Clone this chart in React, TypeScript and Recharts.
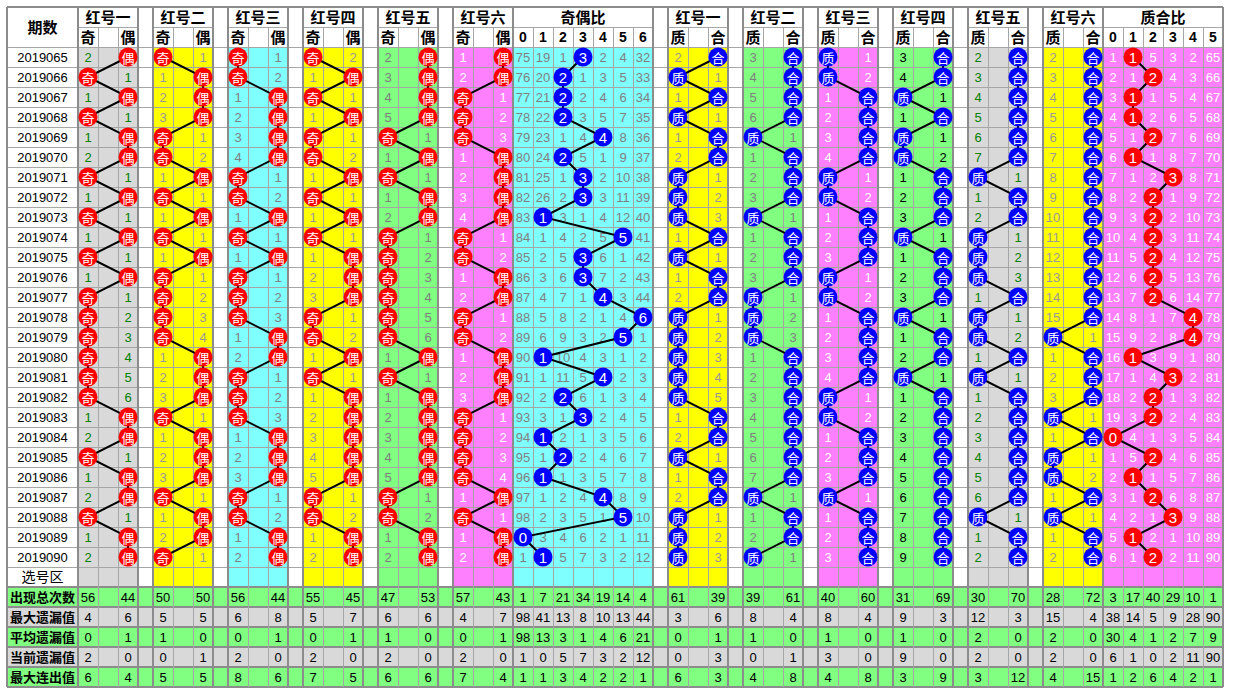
import React from 'react';
import { ComposedChart, XAxis, YAxis, Scatter, ReferenceArea, ReferenceLine } from 'recharts';

const periods = [
  '2019065', '2019066', '2019067', '2019068', '2019069', '2019070', '2019071', '2019072', '2019073',
  '2019074', '2019075', '2019076', '2019077', '2019078', '2019079', '2019080', '2019081', '2019082',
  '2019083', '2019084', '2019085', '2019086', '2019087', '2019088', '2019089', '2019090',
];

// 奇偶走势：每期开出的一侧 + 另一侧的遗漏
const red1OddEven = '偶奇偶奇偶偶奇偶奇偶奇偶奇奇奇奇奇奇偶偶奇偶偶奇偶偶';
const red1OddEvenMiss = [2, 1, 1, 1, 1, 2, 1, 1, 1, 1, 1, 1, 1, 2, 3, 4, 5, 6, 1, 2, 1, 1, 2, 1, 1, 2];
const red2OddEven = '奇偶偶偶奇奇偶奇偶奇偶奇奇奇奇偶偶偶奇偶偶偶奇偶偶奇';
const red2OddEvenMiss = [1, 1, 2, 3, 1, 2, 1, 1, 1, 1, 1, 1, 2, 3, 4, 1, 2, 3, 1, 1, 2, 3, 1, 1, 2, 1];
const red3OddEven = '奇奇偶偶偶偶奇奇偶奇偶奇奇奇偶偶奇奇奇偶偶偶奇奇偶偶';
const red3OddEvenMiss = [1, 2, 1, 2, 3, 4, 1, 2, 1, 1, 1, 1, 2, 3, 1, 2, 1, 2, 3, 1, 2, 3, 1, 2, 1, 2];
const red4OddEven = '奇偶奇偶奇奇偶奇偶奇偶偶偶奇奇偶奇偶偶偶偶偶奇奇偶偶';
const red4OddEvenMiss = [2, 1, 1, 1, 1, 2, 1, 1, 1, 1, 1, 2, 3, 1, 2, 1, 1, 1, 2, 3, 4, 5, 1, 2, 1, 2];
const red5OddEven = '偶偶偶偶奇偶奇偶偶奇奇奇奇奇奇偶奇偶偶偶偶偶奇奇偶偶';
const red5OddEvenMiss = [2, 3, 4, 5, 1, 1, 1, 1, 2, 1, 2, 3, 4, 5, 6, 1, 1, 1, 2, 3, 4, 5, 1, 2, 1, 2];
const red6OddEven = '偶偶奇奇奇偶偶偶偶奇奇偶偶奇奇偶偶偶奇奇奇奇偶奇偶偶';
const red6OddEvenMiss = [1, 2, 1, 2, 3, 1, 2, 3, 4, 1, 2, 1, 2, 1, 2, 1, 2, 3, 1, 2, 3, 4, 1, 1, 1, 2];

// 奇偶比 0..6，0 = 本期开出
const oddRatioRows = [
  [75, 19, 1, 0, 2, 4, 32], [76, 20, 0, 1, 3, 5, 33], [77, 21, 0, 2, 4, 6, 34], [78, 22, 0, 3, 5, 7, 35],
  [79, 23, 1, 4, 0, 8, 36], [80, 24, 0, 5, 1, 9, 37], [81, 25, 1, 0, 2, 10, 38], [82, 26, 2, 0, 3, 11, 39],
  [83, 0, 3, 1, 4, 12, 40], [84, 1, 4, 2, 5, 0, 41], [85, 2, 5, 0, 6, 1, 42], [86, 3, 6, 0, 7, 2, 43],
  [87, 4, 7, 1, 0, 3, 44], [88, 5, 8, 2, 1, 4, 0], [89, 6, 9, 3, 2, 0, 1], [90, 0, 10, 4, 3, 1, 2],
  [91, 1, 11, 5, 0, 2, 3], [92, 2, 0, 6, 1, 3, 4], [93, 3, 1, 0, 2, 4, 5], [94, 0, 2, 1, 3, 5, 6],
  [95, 1, 0, 2, 4, 6, 7], [96, 0, 1, 3, 5, 7, 8], [97, 1, 2, 4, 0, 8, 9], [98, 2, 3, 5, 1, 0, 10],
  [0, 3, 4, 6, 2, 1, 11], [1, 0, 5, 7, 3, 2, 12],
];

// 质合走势
const red1PrimeComp = '合质合质合合质质质合质合合质质质质质合合质合合质质质';
const red1PrimeCompMiss = [2, 1, 1, 1, 1, 2, 1, 2, 3, 1, 1, 1, 2, 1, 2, 3, 4, 5, 1, 2, 1, 1, 2, 1, 2, 3];
const red2PrimeComp = '合合合合质合合合质合合合质质质合合合合合合合质合合质';
const red2PrimeCompMiss = [3, 4, 5, 6, 1, 1, 2, 3, 1, 1, 2, 3, 1, 2, 3, 1, 2, 3, 4, 5, 6, 7, 1, 1, 2, 1];
const red3PrimeComp = '质质合合合合质质合合合质质合合合合质质合合合质合合合';
const red3PrimeCompMiss = [1, 2, 1, 2, 3, 4, 1, 2, 1, 2, 3, 1, 2, 1, 2, 3, 4, 1, 2, 1, 2, 3, 1, 1, 2, 3];
const red4PrimeComp = '合合质合质质合合合质合合合质合合质合合合合合合合合合';
const red4PrimeCompMiss = [3, 4, 1, 1, 1, 2, 1, 2, 3, 1, 1, 2, 3, 1, 1, 2, 1, 1, 2, 3, 4, 5, 6, 7, 8, 9];
const red5PrimeComp = '合合合合合合质合合质质质合质质合质合合合合合合质合合';
const red5PrimeCompMiss = [2, 3, 4, 5, 6, 7, 1, 1, 2, 1, 2, 3, 1, 1, 2, 1, 1, 1, 2, 3, 4, 5, 6, 1, 1, 2];
const red6PrimeComp = '合合合合合合合合合合合合合合质合合合质合质质合质合合';
const red6PrimeCompMiss = [2, 3, 4, 5, 6, 7, 8, 9, 10, 11, 12, 13, 14, 15, 1, 1, 2, 3, 1, 1, 1, 2, 1, 1, 1, 2];

// 质合比 0..5
const primeRatioRows = [
  [1, 0, 5, 3, 2, 65], [2, 1, 0, 4, 3, 66], [3, 0, 1, 5, 4, 67], [4, 0, 2, 6, 5, 68], [5, 1, 0, 7, 6, 69],
  [6, 0, 1, 8, 7, 70], [7, 1, 2, 0, 8, 71], [8, 2, 0, 1, 9, 72], [9, 3, 0, 2, 10, 73], [10, 4, 0, 3, 11, 74],
  [11, 5, 0, 4, 12, 75], [12, 6, 0, 5, 13, 76], [13, 7, 0, 6, 14, 77], [14, 8, 1, 7, 0, 78], [15, 9, 2, 8, 0, 79],
  [16, 0, 3, 9, 1, 80], [17, 1, 4, 0, 2, 81], [18, 2, 0, 1, 3, 82], [19, 3, 0, 2, 4, 83], [0, 4, 1, 3, 5, 84],
  [1, 5, 0, 4, 6, 85], [2, 0, 1, 5, 7, 86], [3, 1, 0, 6, 8, 87], [4, 2, 1, 0, 9, 88], [5, 0, 2, 1, 10, 89],
  [6, 1, 0, 2, 11, 90],
];

// 统计行（左到右：每个红号两列，比值列逐列）
const statLabels = ['出现总次数', '最大遗漏值', '平均遗漏值', '当前遗漏值', '最大连出值'];
const appearCount = [56, 44, 50, 50, 56, 44, 55, 45, 47, 53, 57, 43, 1, 7, 21, 34, 19, 14, 4, 61, 39, 39, 61, 40, 60, 31, 69, 30, 70, 28, 72, 3, 17, 40, 29, 10, 1];
const maxMiss = [4, 6, 5, 5, 6, 8, 5, 7, 6, 6, 4, 7, 98, 41, 13, 8, 10, 13, 44, 3, 6, 8, 4, 8, 4, 9, 3, 12, 3, 15, 4, 38, 14, 5, 9, 28, 90];
const avgMiss = [0, 1, 1, 0, 0, 1, 0, 1, 1, 0, 0, 1, 98, 13, 3, 1, 4, 6, 21, 0, 1, 1, 0, 1, 0, 1, 0, 2, 0, 2, 0, 30, 4, 1, 2, 7, 9];
const curMiss = [2, 0, 0, 1, 2, 0, 2, 0, 2, 0, 2, 0, 1, 0, 5, 7, 3, 2, 12, 0, 3, 0, 1, 3, 0, 9, 0, 2, 0, 2, 0, 6, 1, 0, 2, 11, 90];
const maxStreak = [6, 4, 5, 5, 8, 6, 7, 5, 6, 6, 7, 4, 1, 1, 3, 4, 2, 2, 1, 6, 3, 4, 8, 4, 8, 3, 9, 3, 12, 4, 15, 1, 2, 6, 4, 2, 1];
const statRows = [appearCount, maxMiss, avgMiss, curMiss, maxStreak];

const GRAY = '#d9d9d9';
const YELLOW = '#ffff00';
const CYAN = '#80ffff';
const GREEN = '#80ff80';
const PINK = '#ff80ff';
const RED = '#ff0000';
const BLUE = '#0000ff';
const FONT = "'Liberation Sans', Arial, 'Noto Sans CJK SC', sans-serif";
const CJK = "'Noto Sans CJK SC', 'Liberation Sans', sans-serif";

const oePairs = [
  { title: '红号一', hits: red1OddEven, miss: red1OddEvenMiss, bg: GRAY, ink: '#008000' },
  { title: '红号二', hits: red2OddEven, miss: red2OddEvenMiss, bg: YELLOW, ink: '#999999' },
  { title: '红号三', hits: red3OddEven, miss: red3OddEvenMiss, bg: CYAN, ink: '#808080' },
  { title: '红号四', hits: red4OddEven, miss: red4OddEvenMiss, bg: YELLOW, ink: '#999999' },
  { title: '红号五', hits: red5OddEven, miss: red5OddEvenMiss, bg: GREEN, ink: '#808080' },
  { title: '红号六', hits: red6OddEven, miss: red6OddEvenMiss, bg: PINK, ink: '#ffffff' },
].map((p) => ({ ...p, a: '奇', b: '偶', dot: RED }));

const pcPairs = [
  { title: '红号一', hits: red1PrimeComp, miss: red1PrimeCompMiss, bg: YELLOW, ink: '#999999' },
  { title: '红号二', hits: red2PrimeComp, miss: red2PrimeCompMiss, bg: GREEN, ink: '#808080' },
  { title: '红号三', hits: red3PrimeComp, miss: red3PrimeCompMiss, bg: PINK, ink: '#ffffff' },
  { title: '红号四', hits: red4PrimeComp, miss: red4PrimeCompMiss, bg: GREEN, ink: '#000000' },
  { title: '红号五', hits: red5PrimeComp, miss: red5PrimeCompMiss, bg: GRAY, ink: '#008000' },
  { title: '红号六', hits: red6PrimeComp, miss: red6PrimeCompMiss, bg: YELLOW, ink: '#999999' },
].map((p) => ({ ...p, a: '质', b: '合', dot: BLUE }));

// column layout (widths only, positions accumulate)
const sections: any[] = [{ kind: 'label', w: 71 }];
oePairs.forEach((p, i) => {
  if (i) sections.push({ kind: 'gap', w: 15 });
  sections.push({ kind: 'pair', w: 60, ...p });
});
sections.push({ kind: 'ratio', w: 140, n: 7, title: '奇偶比', rows: oddRatioRows, bg: CYAN, ink: '#808080', dot: BLUE });
sections.push({ kind: 'gap', w: 15 });
pcPairs.forEach((p, i) => {
  if (i) sections.push({ kind: 'gap', w: 15 });
  sections.push({ kind: 'pair', w: 60, ...p });
});
sections.push({ kind: 'ratio', w: 120, n: 6, title: '质合比', rows: primeRatioRows, bg: PINK, ink: '#ffffff', dot: RED });
let acc = 0;
sections.forEach((s) => {
  s.x0 = acc;
  acc += s.w;
  s.x1 = acc;
});
const TOTAL_W = acc;
const ROWS = 34;
const mid = (s: any, i: number) => s.x0 + 10 + i * 20;
const rowY = (i: number) => i + 2.5;

const texts: any[] = [];
const put = (x: number, y: number, t: any, fill = '#000', size = 13, weight = 'normal') =>
  texts.push({ x, y, t: String(t), fill, size, weight });

put(35.5, 1, '期数', '#000', 15, 'bold');
periods.forEach((p, i) => put(35.5, rowY(i), p, '#000', 13));
put(35.5, 28.5, '选号区', '#000', 14);
statLabels.forEach((l, k) => put(35.5, 29.5 + k, l, '#000', 13, 'bold'));

const dotSeries: any[] = [];
let statCol = 0;
sections.forEach((s) => {
  if (s.kind === 'pair') {
    put(s.x0 + 30, 0.5, s.title, '#000', 15, 'bold');
    put(mid(s, 0), 1.5, s.a, '#000', 15, 'bold');
    put(mid(s, 2), 1.5, s.b, '#000', 15, 'bold');
    const pts = Array.from(s.hits as string).map((h, i) => {
      const other = h === s.a ? 2 : 0;
      put(mid(s, other), rowY(i), s.miss[i], s.ink);
      return { x: mid(s, h === s.a ? 0 : 2), y: rowY(i), t: h };
    });
    dotSeries.push({ pts, color: s.dot });
    statRows.forEach((r, k) => {
      put(mid(s, 0), 29.5 + k, r[statCol]);
      put(mid(s, 2), 29.5 + k, r[statCol + 1]);
    });
    statCol += 2;
  } else if (s.kind === 'ratio') {
    put((s.x0 + s.x1) / 2, 0.5, s.title, '#000', 15, 'bold');
    const pts = s.rows.map((row: number[], i: number) => {
      row.forEach((v, c) => {
        if (v !== 0) put(mid(s, c), rowY(i), v, s.ink);
      });
      const c = row.indexOf(0);
      return { x: mid(s, c), y: rowY(i), t: String(c) };
    });
    for (let c = 0; c < s.n; c++) {
      put(mid(s, c), 1.5, c, '#000', 14, 'bold');
      statRows.forEach((r, k) => put(mid(s, c), 29.5 + k, r[statCol + c]));
    }
    statCol += s.n;
    dotSeries.push({ pts, color: s.dot });
  }
});

const TextShape = (props: any) => {
  const { cx, cy, payload } = props;
  return (
    <text x={cx} y={cy} textAnchor="middle" dominantBaseline="central" fill={payload.fill}
      fontSize={payload.size} fontWeight={payload.weight} fontFamily={FONT}>
      {payload.t}
    </text>
  );
};

const makeDot = (color: string) => (props: any) => {
  const { cx, cy, payload } = props;
  return (
    <g>
      <circle cx={cx} cy={cy} r={9.5} fill={color} />
      <text x={cx} y={cy} textAnchor="middle" dominantBaseline="central" fill="#fff"
        fontSize={/\d/.test(payload.t) ? 15 : 13} fontFamily={/\d/.test(payload.t) ? FONT : CJK}>
        {payload.t}
      </text>
    </g>
  );
};

const LINE = '#a6a6a6';
const EDGE = '#8c8c8c';

export default function App() {
  const grid: any[] = [];
  // horizontal
  for (let r = 0; r <= ROWS; r++) {
    if (r === 1) continue;
    const thick = r === 0 || r >= 29;
    grid.push(<ReferenceLine key={`h${r}`} y={r} stroke={thick ? EDGE : LINE} strokeWidth={thick ? 2 : 1} shapeRendering="crispEdges" />);
  }
  sections.forEach((s, i) => {
    if (s.kind === 'pair' || s.kind === 'ratio') {
      grid.push(<ReferenceLine key={`h1-${i}`} segment={[{ x: s.x0, y: 1 }, { x: s.x1, y: 1 }]} stroke={LINE} shapeRendering="crispEdges" />);
      const n = s.kind === 'pair' ? 3 : s.n;
      for (let c = 1; c < n; c++) {
        grid.push(<ReferenceLine key={`v${i}-${c}`} segment={[{ x: s.x0 + c * 20, y: 1 }, { x: s.x0 + c * 20, y: ROWS }]} stroke={LINE} shapeRendering="crispEdges" />);
      }
    }
    grid.push(<ReferenceLine key={`e${i}`} segment={[{ x: s.x0, y: 0 }, { x: s.x0, y: ROWS }]} stroke={EDGE} strokeWidth={2} shapeRendering="crispEdges" />);
  });
  grid.push(<ReferenceLine key="eR" segment={[{ x: TOTAL_W, y: 0 }, { x: TOTAL_W, y: ROWS }]} stroke={EDGE} strokeWidth={2} shapeRendering="crispEdges" />);

  return (
    <div style={{ position: 'absolute', left: 0, top: 0, width: 1234, height: 693, background: '#fff' }}>
      <ComposedChart width={1234} height={693} margin={{ top: 7, left: 7, right: 1234 - 7 - TOTAL_W, bottom: 6 }}>
        <XAxis type="number" dataKey="x" domain={[0, TOTAL_W]} hide />
        <YAxis type="number" dataKey="y" domain={[0, ROWS]} reversed hide />
        {sections.filter((s) => s.bg).map((s, i) => (
          <ReferenceArea key={`bg${i}`} x1={s.x0} x2={s.x1} y1={2} y2={29} fill={s.bg} fillOpacity={1} stroke="none" />
        ))}
        {statRows.map((_, k) => (
          <ReferenceArea key={`st${k}`} x1={0} x2={TOTAL_W} y1={29 + k} y2={30 + k} fill={k % 2 ? GRAY : GREEN} fillOpacity={1} stroke="none" />
        ))}
        {grid}
        <Scatter data={texts} shape={TextShape} isAnimationActive={false} />
        {dotSeries.map((d, i) => (
          <Scatter key={`d${i}`} data={d.pts} shape={makeDot(d.color)} line={{ stroke: '#000', strokeWidth: 2 }} isAnimationActive={false} />
        ))}
      </ComposedChart>
    </div>
  );
}
